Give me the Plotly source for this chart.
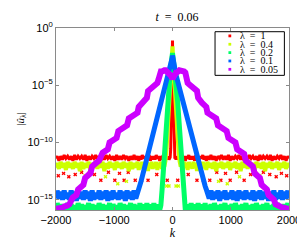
import plotly.graph_objects as go

# ---------------- data (k >= 0 half; spectrum is symmetric in k) ----------------
K_POS = [0, 5, 10, 15, 20, 25, 30, 40, 50, 60, 70, 80, 90, 100] \
    + list(range(120, 601, 20)) + list(range(630, 1981, 30)) + [2000]

LEGEND_LABELS = ["λ\u2002=\u20021", "λ\u2002=\u20020.4", "λ\u2002=\u20020.2",
                 "λ\u2002=\u20020.1", "λ\u2002=\u20020.05"]
COLORS = ["#FF0000", "#CCFF00", "#00FF66", "#0066FF", "#CC00FF"]

# log10 |u_hat|
LOG_L1 = [-1.1, -3.0, -4.8, -6.5, -8.0, -9.3, -10.5, -11.3, -11.3, -11.5, -11.2, -11.5, -11.2, -11.5,
          -11.2, -11.5, -11.1, -11.5, -11.2, -11.6, -11.2, -11.4, -11.1, -11.5,
          -11.2, -11.5, -11.2, -11.6, -11.1, -11.5, -11.2, -11.5, -11.2, -11.4,
          -11.1, -11.5, -11.2, -11.6, -11.2,
          -11.5, -11.1, -11.5, -11.2, -11.6, -11.2, -11.4, -11.1, -11.5, -11.2,
          -11.5, -11.1, -11.6, -11.2, -11.5, -11.2, -11.4, -11.1, -11.5, -11.2,
          -11.6, -11.2, -11.5, -11.1, -11.4, -11.2, -11.5, -11.2, -11.6, -11.1,
          -11.5, -11.2, -11.4, -11.2, -11.5, -11.1, -11.6, -11.2, -11.5, -11.2,
          -11.4, -11.1, -11.5, -11.2, -11.6, -11.2,
          -11.4]

LOG_L04 = [-1.6, -2.2, -2.8, -3.3, -3.8, -4.3, -4.8, -5.6, -6.4, -7.2, -8.0, -8.8, -9.6, -10.4,
           -11.6, -12.1, -11.8, -12.3, -11.7, -12.2, -11.8, -12.4, -11.7, -12.2,
           -11.8, -12.3, -11.7, -12.2, -11.8, -12.5, -11.7, -12.2, -11.8, -12.3,
           -11.7, -12.2, -11.8, -12.4, -11.7,
           -12.2, -11.8, -12.3, -11.7, -12.5, -11.8, -12.2, -11.7, -12.3, -11.8,
           -12.2, -11.7, -12.4, -11.8, -12.2, -11.7, -12.3, -11.8, -12.5, -11.7,
           -12.2, -11.8, -12.3, -11.7, -12.2, -11.8, -12.4, -11.7, -12.2, -11.8,
           -12.3, -11.7, -12.5, -11.8, -12.2, -11.7, -12.3, -11.8, -12.2, -11.7,
           -12.4, -11.8, -12.2, -11.7, -12.3, -11.8,
           -12.2]

LOG_L02 = [-2.2, -2.4, -2.6, -2.8, -3.0, -3.2, -3.4, -3.8, -4.2, -4.6, -5.2, -5.8, -6.5, -7.3,
           -9.0, -10.8, -12.5, -14.2, -15.5, -15.9, -15.4, -16.1, -15.5, -16.0,
           -15.3, -16.1, -15.5, -15.9, -15.4, -16.1, -15.3, -16.0, -15.5, -16.1,
           -15.4, -15.9, -15.3, -16.1, -15.5,
           -16.0, -15.4, -16.1, -15.3, -15.9, -15.5, -16.1, -15.4, -16.0, -15.3,
           -16.1, -15.5, -15.9, -15.4, -16.1, -15.3, -16.0, -15.5, -16.1, -15.4,
           -15.9, -15.3, -16.1, -15.5, -16.0, -15.4, -16.1, -15.3, -15.9, -15.5,
           -16.1, -15.4, -16.0, -15.3, -16.1, -15.5, -15.9, -15.4, -16.1, -15.3,
           -16.0, -15.5, -16.1, -15.4, -15.9, -15.3,
           -16.0]

LOG_L01 = [-2.4, -2.6, -2.8, -3.0, -3.2, -3.4, -3.5, -3.7, -3.9, -4.1, -4.3, -4.5, -4.7, -4.9,
           -5.2, -5.6, -6.0, -6.4, -6.8, -7.2, -7.6, -7.95, -8.3, -8.7,
           -9.1, -9.5, -9.9, -10.3, -10.7, -11.1, -11.4, -11.8, -12.2, -12.6,
           -13.0, -13.4, -13.8, -14.1, -14.5,
           -14.9, -14.2, -15.0, -14.3, -14.9, -14.2, -15.1, -14.3, -14.9, -14.2,
           -15.0, -14.4, -14.9, -14.2, -15.0, -14.3, -15.1, -14.2, -14.9, -14.3,
           -15.0, -14.2, -14.9, -14.4, -15.0, -14.2, -15.1, -14.3, -14.9, -14.2,
           -15.0, -14.3, -14.9, -14.2, -15.1, -14.3, -14.9, -14.2, -15.0, -14.4,
           -14.9, -14.2, -15.0, -14.3, -14.9, -14.2,
           -14.9]

LOG_L005 = [-4.4, -4.4, -4.3, -4.3, -4.2, -4.1, -4.0, -4.0, -3.9, -3.9, -3.9, -3.8, -3.8, -3.8,
            -3.7, -3.7, -3.7, -3.8, -3.8, -3.9, -4.5, -4.8, -4.9, -5.0,
            -5.0, -5.1, -5.2, -5.3, -5.4, -5.5, -6.1, -6.3, -6.4, -6.5,
            -6.6, -6.7, -6.8, -6.9, -7.4,
            -7.5, -7.6, -7.7, -7.8, -7.9, -8.5, -8.6, -8.7, -8.8, -8.9,
            -9.0, -9.6, -9.7, -9.8, -9.9, -10.0, -10.6, -10.7, -10.8, -10.9,
            -11.0, -11.6, -11.7, -11.8, -11.9, -12.1, -12.7, -12.8, -12.9, -13.1,
            -13.7, -13.8, -13.9, -14.1, -14.6, -14.7, -14.8, -15.0, -15.4, -15.5,
            -15.6, -15.6, -15.7, -15.7, -15.8, -15.8,
            -15.8]

# isolated low points below the lambda=1 and lambda=0.4 floors
SCAT_L1_K = [90, 270, 420, 530, 640, 760, 830, 910, 990, 1100, 1230, 1340, 1440, 1560, 1670, 1780, 1870, 1960]
SCAT_L1_LOG = [-13.3, -12.8, -13.3, -13.3, -13.3, -12.6, -13.3, -12.7, -13.3, -12.6, -13.3, -12.8,
               -12.7, -12.6, -12.8, -13.0, -12.7, -12.9]
SCAT_L04_K = [60, 100, 790, 940, 1150, 1500]
SCAT_L04_LOG = [-13.8, -13.8, -13.4, -13.6, -13.0, -12.9]

SERIES = [LOG_L1, LOG_L04, LOG_L02, LOG_L01, LOG_L005]
for s in SERIES:
    assert len(s) == len(K_POS), (len(s), len(K_POS))


def mirror(ks, logs):
    kk = [-k for k in reversed(ks)] + list(ks)
    vv = list(reversed(logs)) + list(logs)
    return kk, [10 ** v for v in vv]


fig = go.Figure()
WIDTHS = [3, 4, 5, 5, 6]
for i in range(5):
    kk, vv = mirror(K_POS, SERIES[i])
    fig.add_trace(go.Scatter(x=kk, y=vv, mode="lines",
                             line=dict(color=COLORS[i], width=WIDTHS[i]),
                             showlegend=False, hoverinfo="skip"))
    if i == 0:
        sk, sv = mirror(SCAT_L1_K, SCAT_L1_LOG)
        fig.add_trace(go.Scatter(x=sk, y=sv, mode="markers",
                                 marker=dict(symbol="x", size=3.5, color=COLORS[0]),
                                 showlegend=False, hoverinfo="skip"))
    if i == 1:
        sk, sv = mirror(SCAT_L04_K, SCAT_L04_LOG)
        fig.add_trace(go.Scatter(x=sk, y=sv, mode="markers",
                                 marker=dict(symbol="x", size=3.5, color=COLORS[1]),
                                 showlegend=False, hoverinfo="skip"))

# ---------------- layout ----------------
L, R, T, B = 41, 12, 18, 27
W, H = 305, 241
PW, PH = W - L - R, H - T - B

def xp(px):
    return (px - L) / PW

def yp(py):
    return (T + PH - py) / PH

AX = "#8a8a8a"
SANS = "Liberation Sans, Arial, sans-serif"
SERIF = "Liberation Serif, Times New Roman, serif"

fig.update_layout(
    width=W, height=H, margin=dict(l=L, r=R, t=T, b=B),
    paper_bgcolor="white", plot_bgcolor="white", showlegend=False,
    title=dict(text="<i>t</i>\u2002=\u20020.06", x=169 / W, xanchor="center",
               y=1 - 8.5 / H, yanchor="middle", yref="container",
               font=dict(family=SERIF, size=12, color="black")),
)
fig.update_xaxes(range=[-2000, 2000], tickvals=[-2000, -1000, 0, 1000, 2000],
                 ticktext=["−2000", "−1000", "0", "1000", "2000"],
                 ticks="inside", ticklen=3, tickcolor=AX, showline=True, linecolor=AX,
                 linewidth=1, mirror="ticks", showgrid=False, zeroline=False,
                 tickfont=dict(family=SANS, size=11, color="black"),
                 title=dict(text="<i>k</i>", font=dict(family=SERIF, size=12, color="black"),
                            standoff=2))
fig.update_yaxes(type="log", range=[-15.9, 0], tickvals=[1e-15, 1e-10, 1e-5, 1],
                 ticktext=["10<sup>−15</sup>", "10<sup>−10</sup>", "10<sup>−5</sup>", "10<sup>0</sup>"],
                 ticks="inside", ticklen=3, tickcolor=AX, showline=True, linecolor=AX,
                 linewidth=1, mirror="ticks", showgrid=False, zeroline=False,
                 tickfont=dict(family=SANS, size=11, color="black"),
                 title=dict(text="|<i>û</i><sub>λ</sub>|", font=dict(family=SERIF, size=11, color="black"),
                            standoff=0))

# ---------------- legend (drawn by hand to match the compact box) ----------------
shapes = [dict(type="rect", xref="paper", yref="paper",
               x0=xp(213), x1=xp(288), y0=yp(69), y1=yp(22),
               line=dict(color="black", width=1), fillcolor="white", layer="above")]
annotations = []
rows = [26.5, 35.5, 44.5, 53.5, 62.5]
for i, py in enumerate(rows):
    shapes.append(dict(type="rect", xref="paper", yref="paper",
                       x0=xp(227.5), x1=xp(230.5), y0=yp(py + 1.5), y1=yp(py - 1.5),
                       line=dict(width=0), fillcolor=COLORS[i], layer="above"))
    annotations.append(dict(x=xp(239), y=yp(py), xref="paper", yref="paper",
                            text=LEGEND_LABELS[i], showarrow=False, xanchor="left",
                            yanchor="middle", borderpad=0,
                            font=dict(family=SERIF, size=10, color="black")))
fig.update_layout(shapes=shapes, annotations=annotations)

fig.write_html("out.html")
